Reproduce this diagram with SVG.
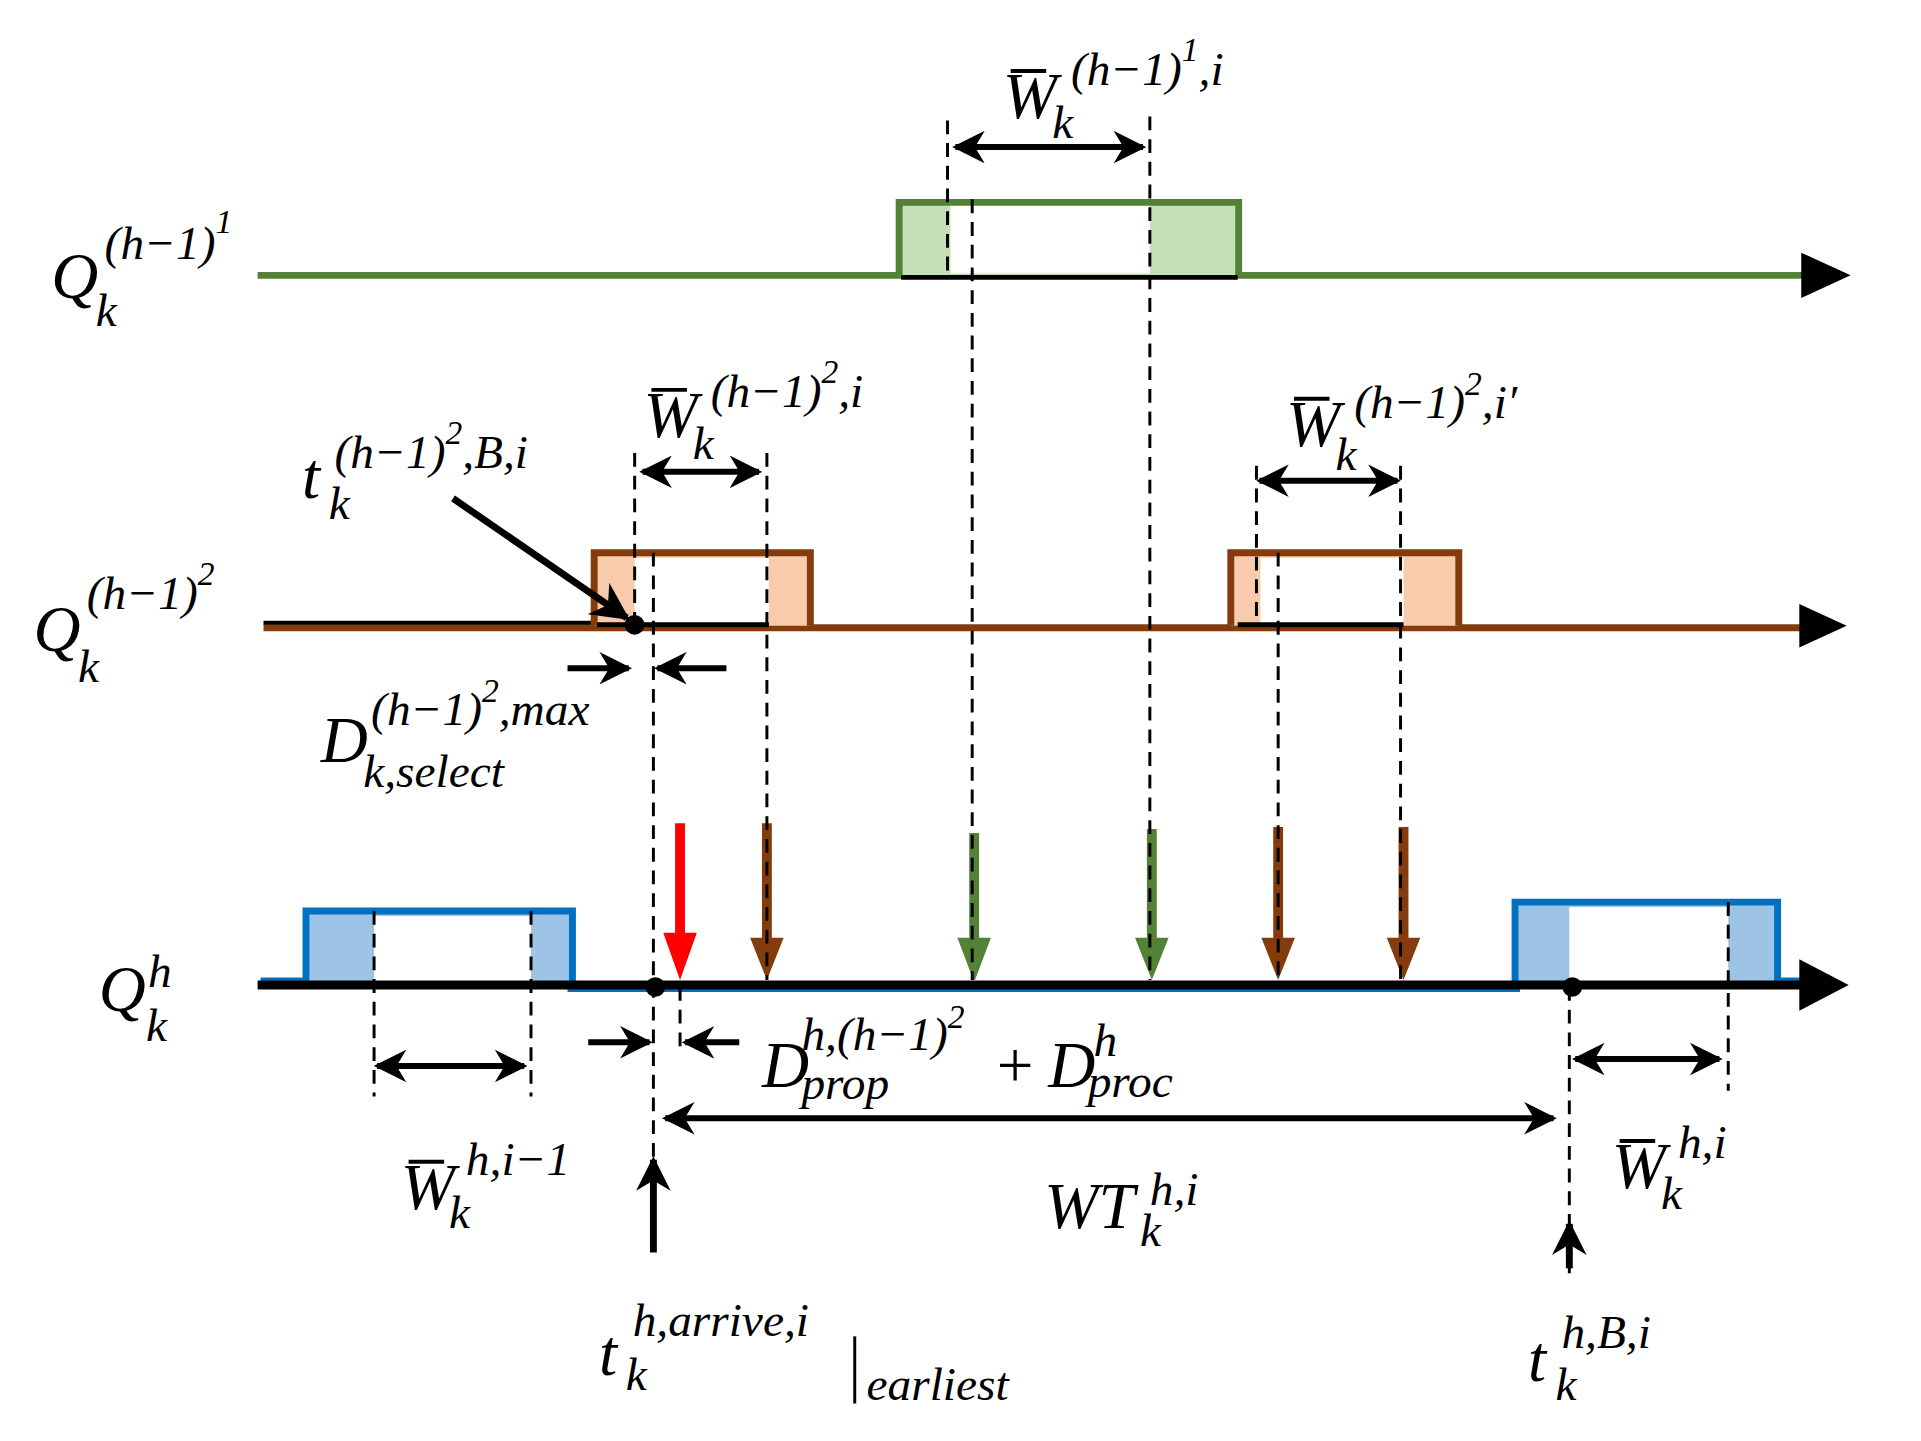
<svg xmlns="http://www.w3.org/2000/svg" width="1921" height="1441" viewBox="0 0 1921 1441">
<defs>
<marker id="ah" viewBox="0 0 10 10" refX="9" refY="5" markerWidth="5.5" markerHeight="5.5" orient="auto-start-reverse" markerUnits="strokeWidth"><path d="M0,0 L10,5 L0,10 L3,5 z" fill="#000"/></marker>
<marker id="au" viewBox="0 0 10 10" refX="9" refY="5" markerWidth="9" markerHeight="5" orient="auto" markerUnits="strokeWidth"><path d="M0,0 L10,5 L0,10 L3,5 z" fill="#000"/></marker>
</defs>
<style>
.t{font-family:"Liberation Serif","DejaVu Serif",serif;font-style:italic;fill:#000}
.L{font-size:66px}.S{font-size:48px}.SS{font-size:34px}
.d{stroke:#000;stroke-width:3;stroke-dasharray:14,9;fill:none}
.da{stroke:#000;stroke-width:6;fill:none;marker-start:url(#ah);marker-end:url(#ah)}
.sa{stroke:#000;stroke-width:6;fill:none;marker-end:url(#ah)}
.bar{stroke:#000;stroke-width:4}
</style>
<rect width="1921" height="1441" fill="#fff"/>
<g transform="scale(0.987)">
<g id="axis-q1">
<line x1="261" y1="279" x2="1830" y2="279" stroke="#538135" stroke-width="7"/>
<polygon points="1825,256 1875,279 1825,302" fill="#000"/>
<rect x="911" y="205" width="344" height="74" fill="#c5e0b4"/>
<rect x="963" y="205" width="202" height="72" fill="#fff"/>
<polyline points="911,279 911,205 1255,205 1255,279" fill="none" stroke="#538135" stroke-width="7"/>
<line x1="913" y1="281" x2="1254" y2="281" stroke="#000" stroke-width="5"/>
</g>

<g id="axis-q2">
<line x1="267" y1="636" x2="1830" y2="636" stroke="#843c0c" stroke-width="7"/>
<line x1="267" y1="631" x2="602" y2="631" stroke="#000" stroke-width="4"/>
<polygon points="1823,612 1871,634 1823,656" fill="#000"/>
<rect x="602" y="562" width="219" height="72" fill="#f8cbad"/>
<rect x="643" y="565" width="136" height="68" fill="#fff"/>
<polyline points="602,634 602,560 821,560 821,634" fill="none" stroke="#843c0c" stroke-width="7"/>
<line x1="605" y1="633" x2="779" y2="633" stroke="#000" stroke-width="5"/>
<rect x="1247" y="562" width="231" height="72" fill="#f8cbad"/>
<rect x="1277" y="565" width="145" height="68" fill="#fff"/>
<polyline points="1247,634 1247,560 1478,560 1478,634" fill="none" stroke="#843c0c" stroke-width="7"/>
<line x1="1254" y1="633" x2="1422" y2="633" stroke="#000" stroke-width="5"/>
<circle cx="643" cy="633" r="10" fill="#000"/>
</g>

<g id="axis-qh">
<line x1="264" y1="994" x2="310" y2="994" stroke="#0070c0" stroke-width="7"/>
<rect x="310" y="925" width="270" height="72" fill="#9dc3e6"/>
<rect x="379" y="928" width="159" height="68" fill="#fff"/>
<polyline points="310,997 310,923 580,923 580,997" fill="none" stroke="#0070c0" stroke-width="7"/>
<rect x="1535" y="916" width="266" height="81" fill="#9dc3e6"/>
<rect x="1590" y="919" width="161" height="77" fill="#fff"/>
<polyline points="1535,997 1535,914 1801,914 1801,994 1825,994" fill="none" stroke="#0070c0" stroke-width="7"/>
<line x1="575" y1="1003" x2="1540" y2="1003" stroke="#0070c0" stroke-width="4"/>
<line x1="261" y1="998" x2="1830" y2="998" stroke="#000" stroke-width="9"/>
<polygon points="1823,972 1873,998 1823,1024" fill="#000"/>
<circle cx="664" cy="1000" r="10" fill="#000"/>
<circle cx="1593" cy="1000" r="10" fill="#000"/>
</g>

<g id="colored-arrows">
<polygon points="684,834 694,834 694,945 706,945 689,993 672,945 684,945" fill="#ff0000"/>
<polygon points="772,834 782,834 782,950 794,950 777,993 760,950 772,950" fill="#843c0c"/>
<polygon points="982,844 992,844 992,950 1004,950 987,995 970,950 982,950" fill="#538135"/>
<polygon points="1162,840 1172,840 1172,950 1184,950 1167,993 1150,950 1162,950" fill="#538135"/>
<polygon points="1290,838 1300,838 1300,950 1312,950 1295,993 1278,950 1290,950" fill="#843c0c"/>
<polygon points="1417,838 1427,838 1427,950 1439,950 1422,993 1405,950 1417,950" fill="#843c0c"/>
</g>

<g id="connectors">
<line class="d" x1="960" y1="122" x2="960" y2="279"/>
<line class="d" x1="985" y1="202" x2="985" y2="993"/>
<line class="d" x1="1165" y1="118" x2="1165" y2="993"/>
<line class="d" x1="643" y1="459" x2="643" y2="633"/>
<line class="d" x1="662" y1="560" x2="662" y2="1267"/>
<line class="d" x1="777" y1="459" x2="777" y2="993"/>
<line class="d" x1="1273" y1="472" x2="1273" y2="633"/>
<line class="d" x1="1295" y1="560" x2="1295" y2="993"/>
<line class="d" x1="1419" y1="472" x2="1419" y2="993"/>
<line class="d" x1="379" y1="923" x2="379" y2="1111"/>
<line class="d" x1="538" y1="923" x2="538" y2="1111"/>
<line class="d" x1="689" y1="1000" x2="689" y2="1068"/>
<line class="d" x1="1590" y1="1000" x2="1590" y2="1291"/>
<line class="d" x1="1751" y1="914" x2="1751" y2="1105"/>
<line class="da" x1="968" y1="149" x2="1158" y2="149"/>
<line class="da" x1="651" y1="478" x2="769" y2="478"/>
<line class="da" x1="1276" y1="487" x2="1416" y2="487"/>
<line class="da" x1="382" y1="1080" x2="531" y2="1080"/>
<line class="da" x1="1596" y1="1073" x2="1742" y2="1073"/>
<line class="da" x1="674" y1="1133" x2="1574" y2="1133"/>
<line class="sa" x1="575" y1="677" x2="637" y2="677"/>
<line class="sa" x1="736" y1="677" x2="666" y2="677"/>
<line class="sa" x1="596" y1="1056" x2="658" y2="1056"/>
<line class="sa" x1="749" y1="1056" x2="694" y2="1056"/>
<line x1="459" y1="505" x2="635" y2="626" stroke="#000" stroke-width="7" marker-end="url(#ah)"/>
<line x1="662" y1="1269" x2="662" y2="1175" stroke="#000" stroke-width="7" marker-end="url(#au)"/>
<line x1="1590" y1="1285" x2="1590" y2="1240" stroke="#000" stroke-width="7" marker-end="url(#au)"/>
</g>

<g id="labels">
<text class="t L" x="52" y="302">Q</text><text class="t S" x="97" y="330">k</text><text class="t S" x="106" y="262">(h−1)<tspan class="SS" dy="-26">1</tspan></text>
<text class="t L" x="34" y="660">Q</text><text class="t S" x="79" y="691">k</text><text class="t S" x="88" y="617">(h−1)<tspan class="SS" dy="-24">2</tspan></text>
<text class="t L" x="100" y="1024">Q</text><text class="t S" x="148" y="1055">k</text><text class="t S" x="150" y="1000">h</text>

<text class="t L" x="1016" y="120">W</text><line class="bar" x1="1024" y1="72" x2="1060" y2="72"/><text class="t S" x="1066" y="140">k</text><text class="t S" x="1085" y="86">(h−1)<tspan class="SS" dy="-24">1</tspan><tspan dy="24">,i</tspan></text>

<text class="t L" x="652" y="443">W</text><line class="bar" x1="660" y1="395" x2="696" y2="395"/><text class="t S" x="702" y="465">k</text><text class="t S" x="720" y="412">(h−1)<tspan class="SS" dy="-24">2</tspan><tspan dy="24">,i</tspan></text>

<text class="t L" x="1303" y="452">W</text><line class="bar" x1="1311" y1="404" x2="1347" y2="404"/><text class="t S" x="1353" y="476">k</text><text class="t S" x="1372" y="424">(h−1)<tspan class="SS" dy="-24">2</tspan><tspan dy="24">,i′</tspan></text>

<text class="t L" x="306" y="505">t</text><text class="t S" x="333" y="526">k</text><text class="t S" x="339" y="474">(h−1)<tspan class="SS" dy="-24">2</tspan><tspan dy="24">,B,i</tspan></text>

<text class="t L" x="325" y="772">D</text><text class="t S" x="368" y="797">k,select</text><text class="t S" x="376" y="735">(h−1)<tspan class="SS" dy="-24">2</tspan><tspan dy="24">,max</tspan></text>

<text class="t L" x="772" y="1101">D</text><text class="t S" x="812" y="1113">prop</text><text class="t S" x="812" y="1064">h,(h−1)<tspan class="SS" dy="-22">2</tspan></text>
<text class="t L" x="1010" y="1101" style="font-style:normal">+</text>
<text class="t L" x="1062" y="1101">D</text><text class="t S" x="1102" y="1111">proc</text><text class="t S" x="1108" y="1070">h</text>

<text class="t L" x="406" y="1225">W</text><line class="bar" x1="414" y1="1177" x2="450" y2="1177"/><text class="t S" x="455" y="1244">k</text><text class="t S" x="472" y="1190">h,i−1</text>
<text class="t L" x="1058" y="1244">WT</text><text class="t S" x="1155" y="1262">k</text><text class="t S" x="1165" y="1221">h,i</text>
<text class="t L" x="1633" y="1204">W</text><line class="bar" x1="1641" y1="1156" x2="1677" y2="1156"/><text class="t S" x="1683" y="1225">k</text><text class="t S" x="1700" y="1173">h,i</text>

<text class="t L" x="607" y="1393">t</text><text class="t S" x="634" y="1408">k</text><text class="t S" x="641" y="1354">h,arrive,i</text>
<line x1="866" y1="1354" x2="866" y2="1422" stroke="#000" stroke-width="3"/><text class="t S" x="878" y="1418">earliest</text>
<text class="t L" x="1548" y="1399">t</text><text class="t S" x="1576" y="1418">k</text><text class="t S" x="1582" y="1366">h,B,i</text>
</g>
</g>
</svg>
